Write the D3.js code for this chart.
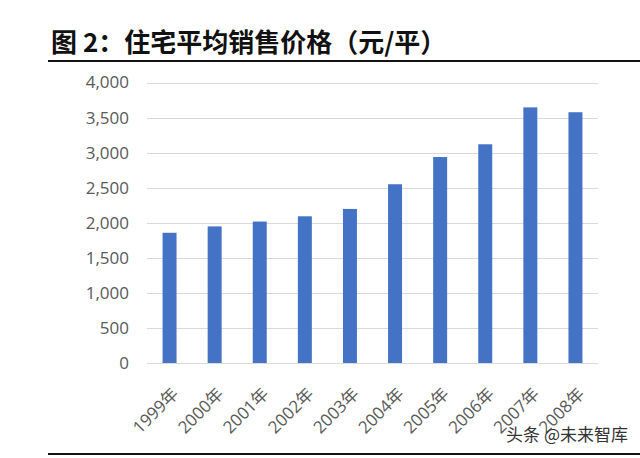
<!DOCTYPE html>
<html>
<head>
<meta charset="utf-8">
<script src="https://cdn.jsdelivr.net/npm/d3@7"></script>
<style>
  html, body { margin: 0; padding: 0; background: #fff; }
  #chart { width: 640px; height: 458px; }
</style>
</head>
<body>
<div id="chart"></div>
<script>
// Data
const years = ["1999年", "2000年", "2001年", "2002年", "2003年", "2004年", "2005年", "2006年", "2007年", "2008年"];
const prices = [1857, 1948, 2017, 2092, 2197, 2549, 2937, 3119, 3645, 3576];
const yTicks = [0, 500, 1000, 1500, 2000, 2500, 3000, 3500, 4000];

const width = 640, height = 458;
const margin = { top: 82.5, right: 42, bottom: 95, left: 147 };

const svg = d3.select("#chart")
  .append("svg")
  .attr("width", width)
  .attr("height", height);

// Title
svg.append("text")
  .attr("x", 51)
  .attr("y", 52)
  .attr("font-family", "'Noto Sans CJK SC', sans-serif")
  .attr("font-weight", 700)
  .attr("font-size", "26px")
  .attr("fill", "#111")
  .text("图 2：住宅平均销售价格（元/平）");

svg.append("line")
  .attr("x1", 48).attr("x2", width)
  .attr("y1", 61).attr("y2", 61)
  .attr("stroke", "#111")
  .attr("stroke-width", 2);

svg.append("line")
  .attr("x1", 48).attr("x2", width)
  .attr("y1", 454).attr("y2", 454)
  .attr("stroke", "#111")
  .attr("stroke-width", 2);

// Scales
const x = d3.scaleBand()
  .domain(years)
  .range([margin.left, width - margin.right])
  .paddingInner(0.69)
  .paddingOuter(0.345);

const y = d3.scaleLinear()
  .domain([0, 4000])
  .range([363, margin.top]);

// Gridlines
svg.append("g")
  .selectAll("line")
  .data(yTicks)
  .join("line")
  .attr("x1", margin.left)
  .attr("x2", width - margin.right)
  .attr("y1", d => Math.round(y(d)) + 0.5)
  .attr("y2", d => Math.round(y(d)) + 0.5)
  .attr("stroke", "#d9d9d9")
  .attr("stroke-width", 1);

// Y axis labels
const yAxis = svg.append("g")
  .attr("transform", `translate(${margin.left - 18},0)`)
  .call(d3.axisLeft(y).tickValues(yTicks).tickSize(0).tickPadding(0).tickFormat(d3.format(",")));
yAxis.select(".domain").remove();
yAxis.selectAll("text")
  .attr("font-family", "'Open Sans', 'Noto Sans CJK SC', sans-serif")
  .attr("font-size", "17px")
  .attr("fill", "#595959");

// Bars
svg.append("g")
  .selectAll("rect")
  .data(prices)
  .join("rect")
  .attr("x", (d, i) => x(years[i]))
  .attr("y", d => y(d))
  .attr("width", x.bandwidth())
  .attr("height", d => y(0) - y(d))
  .attr("fill", "#4472C4");

// X axis labels
const xAxis = svg.append("g")
  .attr("transform", `translate(0,${y(0)})`)
  .call(d3.axisBottom(x).tickSize(0).tickPadding(0));
xAxis.select(".domain").remove();
xAxis.selectAll("text")
  .attr("font-family", "'Open Sans', 'Noto Sans CJK SC', sans-serif")
  .attr("font-size", "17px")
  .attr("fill", "#595959")
  .attr("text-anchor", "end")
  .attr("dy", null)
  .attr("y", 0)
  .attr("transform", "translate(10,32) rotate(-45)");

// Watermark
svg.append("text")
  .attr("x", 628)
  .attr("y", 441)
  .attr("text-anchor", "end")
  .attr("font-family", "'Noto Sans CJK SC', sans-serif")
  .attr("font-size", "17px")
  .attr("fill", "#333")
  .text("头条 @未来智库");
</script>
</body>
</html>
